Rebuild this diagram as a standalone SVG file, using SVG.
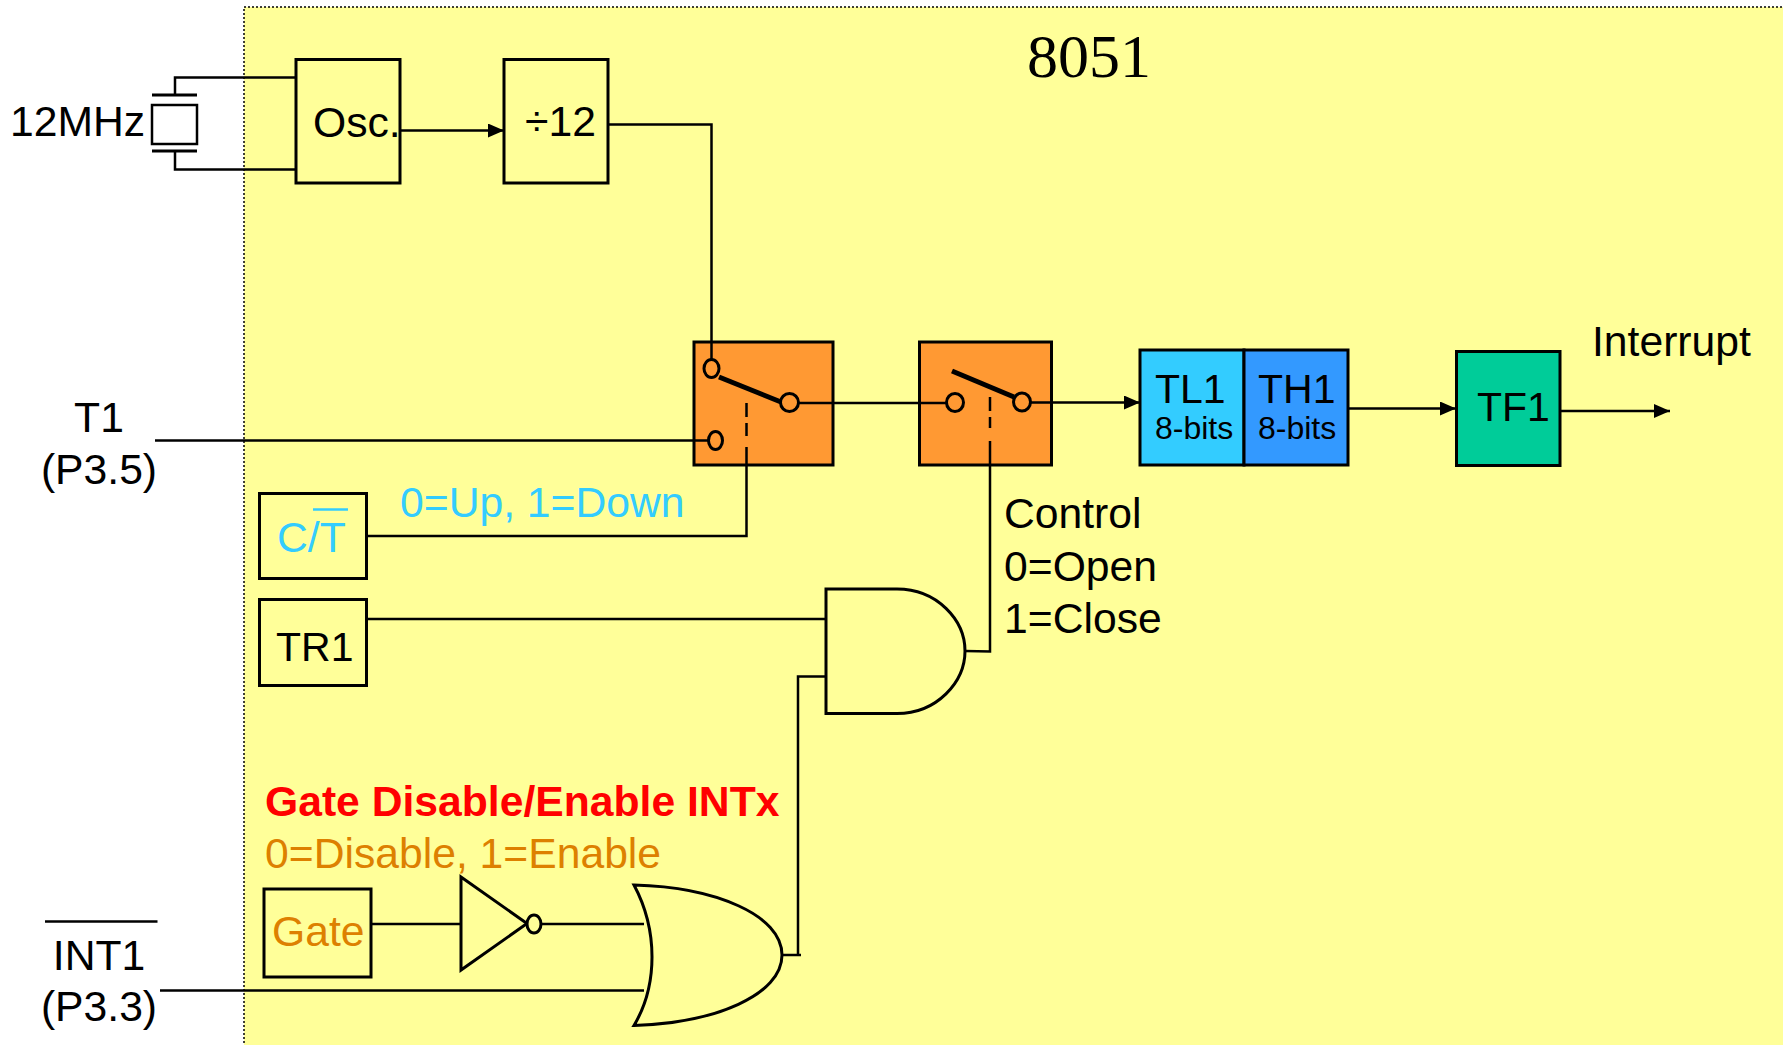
<svg xmlns="http://www.w3.org/2000/svg" width="1783" height="1045" viewBox="0 0 1783 1045">
<style>
text{font-family:"Liberation Sans",Arial,sans-serif;font-size:42.67px;fill:#000}
.b{fill:#FFFF99;stroke:#000;stroke-width:3}
.o{fill:#FF9933;stroke:#000;stroke-width:3}
.w{fill:none;stroke:#000;stroke-width:2.5}
.c{fill:none;stroke:#000;stroke-width:3}
.h{fill:#FF9933;stroke:#000;stroke-width:3}
.s{font-size:32px}
.n{font-size:41px}
.cy{fill:#33CCFF}
.or{fill:#DD8000}
</style>
<defs><marker id="a" viewBox="0 0 16 14" refX="16" refY="7" markerWidth="16" markerHeight="14" markerUnits="userSpaceOnUse" orient="auto"><path d="M0 0L16 7L0 14Z" fill="#000"/></marker></defs>
<rect id="chip" x="244" y="7" width="1545" height="1045" fill="#FFFF99" stroke="#000" stroke-width="1.5" stroke-dasharray="2 2"/>
<text x="1027" y="77" style="font-family:'Liberation Serif',serif;font-size:62px">8051</text>
<g id="connectors">
<path class="w" d="M296 77.500H175V95M296 169.500H175V151"/>
<path class="w" d="M400 130.500H504" marker-end="url(#a)"/>
<path class="w" d="M608 124.500H711.500V360"/>
<path class="w" d="M155 440.500H708"/>
<path class="w" d="M798 403H947"/>
<path class="w" d="M1031 402.500H1140" marker-end="url(#a)"/>
<path class="w" d="M1348 408.500H1456" marker-end="url(#a)"/>
<path class="w" d="M1560 411H1670" marker-end="url(#a)"/>
<path class="w" d="M366 536H746.500V447"/>
<path class="w" d="M746.500 403V417M746.500 423V436M990 397V411M990 417V428"/>
<path class="w" d="M990 441V651.500L965 651"/>
<path class="w" d="M366 619H826"/>
<path class="w" d="M826 676.500H798V955M782 955H801"/>
<path class="w" d="M371 924H461M541 924H644M160 990.500H644"/>
</g>
<g id="crystal"><path d="M152 95H197M152 151H197" class="c"/><rect x="152" y="105" width="45" height="39" fill="#fff" stroke="#000" stroke-width="2.500"/><text x="10" y="136">12MHz</text></g>
<g id="osc"><rect class="b" x="296" y="59.500" width="104" height="123.500"/><text x="313" y="137">Osc.</text></g>
<g id="div12"><rect class="b" x="504" y="59.500" width="104" height="123.500"/><text x="525" y="136">÷12</text></g>
<g id="t1"><text x="99" y="432" text-anchor="middle">T1</text><text x="99" y="484" text-anchor="middle">(P3.5)</text></g>
<g id="switch1"><rect class="o" x="694" y="342" width="139" height="123"/>
<path d="M711.500 342V360M798 403H833M694 440.500H708" class="w"/><path d="M746.500 403V417M746.500 423V436M746.500 447V465" class="w"/>
<path d="M719 377L781 402" stroke="#000" stroke-width="5"/><ellipse class="h" cx="711.500" cy="368.500" rx="7.500" ry="9"/><ellipse class="h" cx="789.500" cy="402.500" rx="9" ry="9"/><ellipse class="h" cx="715.500" cy="440.500" rx="7" ry="9"/></g>
<g id="switch2"><rect class="o" x="919.500" y="342" width="132" height="123"/>
<path d="M919.500 403H947M1031 402.500H1051" class="w"/><path d="M990 397V411M990 417V428M990 441V465" class="w"/>
<path d="M952 371L1014 397" stroke="#000" stroke-width="5"/><ellipse class="h" cx="955" cy="402.500" rx="8.500" ry="9"/><ellipse class="h" cx="1022" cy="402" rx="8.500" ry="9"/></g>
<g id="tl1"><rect x="1140" y="350" width="104" height="115" fill="#33CCFF" stroke="#000" stroke-width="3"/><text class="n" x="1155" y="403">TL1</text><text class="s" x="1155" y="439">8-bits</text></g>
<g id="th1"><rect x="1244" y="350" width="104" height="115" fill="#3399FF" stroke="#000" stroke-width="3"/><text class="n" x="1258" y="403">TH1</text><text class="s" x="1258" y="439">8-bits</text></g>
<g id="tf1"><rect x="1456.500" y="351.500" width="103.500" height="114" fill="#00CC99" stroke="#000" stroke-width="3"/><text class="n" x="1477" y="421">TF1</text></g>
<text x="1592" y="356">Interrupt</text>
<text class="cy" x="400" y="517">0=Up, 1=Down</text>
<g id="ct"><rect class="b" x="259.500" y="493.500" width="107" height="85"/><text class="cy" x="277" y="552">C/T</text><path d="M313 509.500H348" stroke="#33CCFF" stroke-width="2.500"/></g>
<g id="tr1"><rect class="b" x="259.500" y="599.500" width="107" height="86"/><text class="n" x="276" y="661">TR1</text></g>
<text x="1004" y="528">Control</text><text x="1004" y="581">0=Open</text><text x="1004" y="633">1=Close</text>
<g id="and"><path d="M826 589H897C937 589 965 620 965 651C965 682 937 713.500 897 713.500H826Z" class="b"/></g>
<text x="265" y="816" style="font-weight:bold;fill:#FF0000">Gate Disable/Enable INTx</text>
<text class="or" x="265" y="868">0=Disable, 1=Enable</text>
<g id="gate"><rect class="b" x="264" y="889" width="107" height="88"/><text class="or" x="272" y="946">Gate</text></g>
<g id="not"><path d="M461 877L527 923.500L461 970Z" class="b"/><ellipse class="b" cx="534" cy="924" rx="7" ry="9"/></g>
<g id="orgate"><path d="M634 885C715 887 782 915 782 955C782 995 715 1023 634 1025.500C658 985 658 930 634 885Z" class="b"/></g>
<g id="int1"><path d="M45 921.500H157.500" stroke="#000" stroke-width="2.500"/><text x="99" y="970" text-anchor="middle">INT1</text><text x="99" y="1021" text-anchor="middle">(P3.3)</text></g>
</svg>
